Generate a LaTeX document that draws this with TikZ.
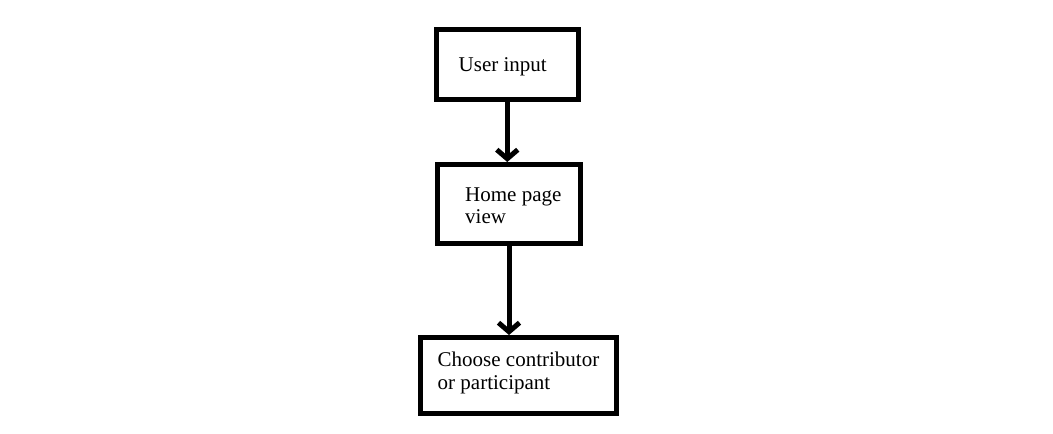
\documentclass[tikz,border=0pt]{standalone}
\usepackage{fontspec}
\setmainfont{Liberation Serif}
\usetikzlibrary{arrows.meta}

\tikzset{
	box/.style={draw, rectangle, line width=5pt, inner sep=0pt},
	txt/.style={anchor=base west, align=left, inner sep=0pt, font=\fontsize{21}{22.5}\selectfont},
	flow/.style={line width=5pt, -{Straight Barb[length=9pt, width=21pt]}}
}

\begin{document}
\begin{tikzpicture}[x=1pt, y=-1pt]
			\useasboundingbox (0,0) rectangle (1053,434);
			% Boxes
			\node[box, minimum width=141.5pt, minimum height=70pt] (input) at (507.25, 64.7) {};
			\node[box, minimum width=143pt, minimum height=79pt] (home) at (509, 204) {};
			\node[box, minimum width=196pt, minimum height=76pt] (choose) at (518.5, 375.5) {};
			% Texts (base = last line)
			\node[txt] (inputtxt) at (458.5, 71.7) {User input};
			\node[txt] (hometxt) at (465, 223.5) {Home page\\view};
			\node[txt] (choosetxt) at (437.5, 389.3) {Choose contributor\\or participant};
			% Arrows
			\draw[flow] (input.south) -- (input.south |- home.north);
			\draw[flow] (home.south) -- (home.south |- choose.north);
		\end{tikzpicture}
\end{document}
